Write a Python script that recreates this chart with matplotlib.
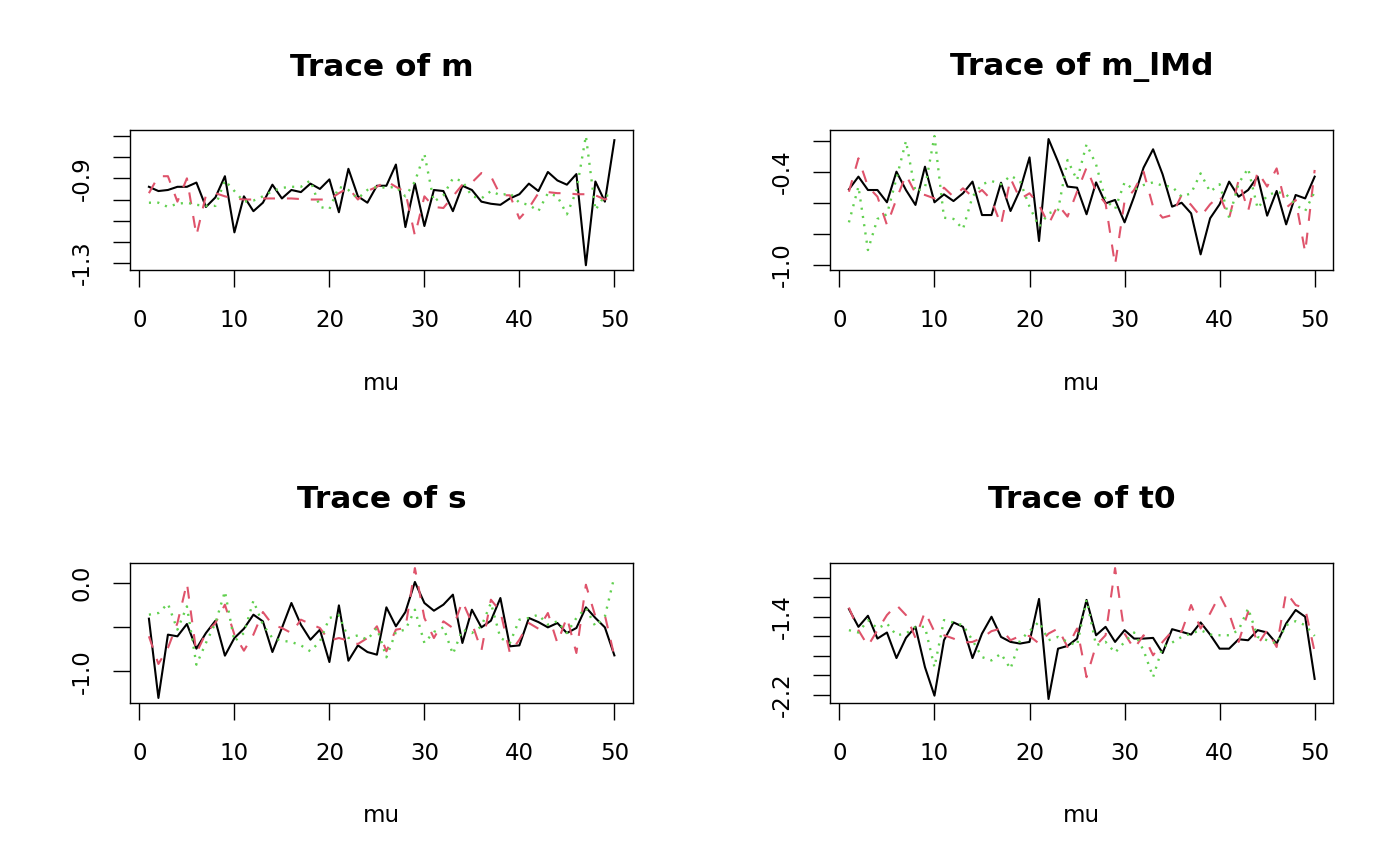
import numpy as np
import matplotlib
matplotlib.use("Agg")
import matplotlib.pyplot as plt

# ── Data ──────────────────────────────────────────────────────────────────────
iters = np.arange(1, 51)

m_black = [-0.94, -0.96, -0.955, -0.94, -0.94, -0.92, -1.035, -0.99, -0.89, -1.155,
           -0.985, -1.055, -1.015, -0.93, -0.995, -0.955, -0.965, -0.925, -0.95, -0.905,
           -1.06, -0.855, -0.985, -1.015, -0.935, -0.935, -0.835, -1.13, -0.925, -1.125,
           -0.955, -0.96, -1.055, -0.935, -0.955, -1.01, -1.02, -1.025, -0.995, -0.975,
           -0.925, -0.96, -0.87, -0.91, -0.93, -0.88, -1.31, -0.915, -1.01, -0.72]
m_red = [-0.97, -0.89, -0.89, -1.01, -0.9, -1.17, -0.98, -0.97, -0.985, -0.995,
         -1.0, -1.0, -0.995, -0.995, -0.995, -0.995, -0.998, -1.0, -1.0, -1.0,
         -0.97, -0.945, -1.0, -0.96, -0.94, -0.913, -0.94, -0.965, -1.17, -0.985,
         -1.035, -1.04, -0.985, -0.93, -0.92, -0.875, -0.89, -0.98, -0.98, -1.09,
         -1.04, -0.97, -0.965, -0.97, -0.97, -0.975, -0.975, -0.98, -1.0, -0.98]
m_green = [-1.015, -1.015, -1.035, -1.02, -1.015, -1.025, -1.03, -1.03, -0.91, -0.96,
           -1.01, -1.005, -0.985, -0.96, -0.945, -0.94, -0.94, -0.91, -1.035, -1.045,
           -0.94, -0.955, -0.995, -0.955, -0.94, -0.945, -0.94, -0.985, -0.915, -0.785,
           -1.01, -0.98, -0.9, -0.913, -0.985, -0.995, -0.96, -0.98, -0.97, -1.015,
           -1.025, -1.055, -0.97, -0.985, -1.07, -0.96, -0.70, -1.05, -0.98, -0.985]

lmd_black = [-0.514, -0.432, -0.518, -0.518, -0.597, -0.4, -0.518, -0.614, -0.368, -0.597,
             -0.546, -0.589, -0.539, -0.464, -0.679, -0.679, -0.471, -0.653, -0.518, -0.308,
             -0.846, -0.19, -0.336, -0.496, -0.503, -0.674, -0.469, -0.604, -0.582, -0.726,
             -0.561, -0.374, -0.256, -0.417, -0.625, -0.6, -0.668, -0.932, -0.7, -0.61,
             -0.464, -0.561, -0.518, -0.432, -0.683, -0.524, -0.739, -0.55, -0.572, -0.432]
lmd_red = [-0.529, -0.314, -0.496, -0.561, -0.743, -0.576, -0.421, -0.539, -0.55, -0.572,
           -0.503, -0.561, -0.507, -0.561, -0.518, -0.582, -0.743, -0.443, -0.576, -0.539,
           -0.614, -0.739, -0.614, -0.689, -0.529, -0.374, -0.529, -0.604, -1.0, -0.589,
           -0.518, -0.4, -0.625, -0.696, -0.679, -0.55, -0.614, -0.689, -0.61, -0.554,
           -0.7, -0.454, -0.653, -0.4, -0.496, -0.379, -0.632, -0.582, -0.919, -0.389]
lmd_green = [-0.726, -0.496, -0.904, -0.704, -0.674, -0.443, -0.203, -0.529, -0.503, -0.171,
             -0.696, -0.704, -0.769, -0.561, -0.481, -0.46, -0.481, -0.426, -0.46, -0.625,
             -0.754, -0.668, -0.647, -0.325, -0.454, -0.224, -0.353, -0.582, -0.64, -0.469,
             -0.518, -0.486, -0.469, -0.49, -0.496, -0.561, -0.539, -0.411, -0.529, -0.481,
             -0.696, -0.475, -0.379, -0.636, -0.554, -0.529, -0.546, -0.614, -0.653, -0.529]

s_black = [-0.406, -1.3, -0.586, -0.605, -0.466, -0.744, -0.568, -0.429, -0.823, -0.624,
           -0.519, -0.361, -0.436, -0.782, -0.511, -0.229, -0.474, -0.643, -0.53, -0.895,
           -0.256, -0.88, -0.707, -0.782, -0.812, -0.278, -0.492, -0.331, 0.008, -0.229,
           -0.316, -0.248, -0.135, -0.68, -0.305, -0.504, -0.429, -0.173, -0.718, -0.707,
           -0.398, -0.444, -0.504, -0.455, -0.568, -0.511, -0.278, -0.398, -0.504, -0.82]
s_red = [-0.605, -0.917, -0.737, -0.455, -0.004, -0.793, -0.568, -0.455, -0.248, -0.586,
         -0.767, -0.586, -0.331, -0.474, -0.511, -0.568, -0.417, -0.466, -0.511, -0.654,
         -0.624, -0.654, -0.692, -0.624, -0.492, -0.774, -0.53, -0.511, 0.165, -0.398,
         -0.624, -0.436, -0.511, -0.211, -0.455, -0.767, -0.192, -0.323, -0.793, -0.643,
         -0.455, -0.519, -0.342, -0.68, -0.391, -0.793, -0.023, -0.38, -0.368, -0.831]
s_green = [-0.361, -0.342, -0.237, -0.53, -0.267, -0.925, -0.68, -0.455, -0.098, -0.662,
           -0.568, -0.203, -0.474, -0.624, -0.654, -0.669, -0.707, -0.774, -0.662, -0.398,
           -0.368, -0.624, -0.594, -0.643, -0.511, -0.842, -0.556, -0.53, -0.305, -0.68,
           -0.556, -0.504, -0.805, -0.53, -0.568, -0.492, -0.229, -0.624, -0.68, -0.417,
           -0.398, -0.361, -0.474, -0.436, -0.568, -0.398, -0.286, -0.492, -0.38, 0.071]

t0_black = [-1.321, -1.503, -1.39, -1.623, -1.561, -1.822, -1.616, -1.503, -1.915, -2.206,
            -1.64, -1.458, -1.503, -1.822, -1.572, -1.4, -1.606, -1.657, -1.674, -1.657,
            -1.218, -2.24, -1.726, -1.698, -1.623, -1.228, -1.589, -1.503, -1.657, -1.537,
            -1.623, -1.623, -1.616, -1.77, -1.527, -1.554, -1.582, -1.458, -1.582, -1.726,
            -1.726, -1.63, -1.64, -1.537, -1.561, -1.674, -1.469, -1.331, -1.4, -2.035]
t0_red = [-1.307, -1.537, -1.698, -1.537, -1.383, -1.28, -1.383, -1.616, -1.349, -1.554,
          -1.589, -1.623, -1.664, -1.657, -1.616, -1.547, -1.52, -1.64, -1.596, -1.596,
          -1.674, -1.572, -1.52, -1.709, -1.52, -2.017, -1.692, -1.589, -0.903, -1.572,
          -1.726, -1.589, -1.794, -1.657, -1.547, -1.554, -1.28, -1.52, -1.366, -1.177,
          -1.366, -1.657, -1.349, -1.685, -1.537, -1.709, -1.15, -1.28, -1.314, -1.76]
t0_green = [-1.537, -1.561, -1.434, -1.52, -1.469, -1.589, -1.572, -1.503, -1.503, -1.915,
            -1.434, -1.458, -1.486, -1.64, -1.812, -1.846, -1.777, -1.932, -1.64, -1.547,
            -1.451, -1.64, -1.606, -1.657, -1.692, -1.228, -1.692, -1.657, -1.767, -1.657,
            -1.561, -1.743, -2.017, -1.709, -1.664, -1.606, -1.572, -1.537, -1.582, -1.589,
            -1.589, -1.537, -1.314, -1.606, -1.64, -1.674, -1.486, -1.445, -1.486, -1.596]

titles = ["Trace of m", "Trace of m_lMd", "Trace of s", "Trace of t0"]
series = [(m_black, m_red, m_green), (lmd_black, lmd_red, lmd_green),
          (s_black, s_red, s_green), (t0_black, t0_red, t0_green)]
ylims = [(-1.3325, -0.672), (-1.0325, -0.132), (-1.357, 0.222), (-2.281, -0.851)]
yticks = [np.arange(-1.3, -0.65, 0.1), np.arange(-1.0, -0.15, 0.2),
          [-1.0, -0.5, 0.0], np.arange(-2.2, -0.95, 0.2)]
ylabels_shown = [{-1.3: "-1.3", -0.9: "-0.9"}, {-1.0: "-1.0", -0.4: "-0.4"},
                 {-1.0: "-1.0", 0.0: "0.0"}, {-2.2: "-2.2", -1.4: "-1.4"}]
xticks = [0, 10, 20, 30, 40, 50]

# ── Style ─────────────────────────────────────────────────────────────────────
RED = "#DF536B"
GREEN = "#61D04F"
plt.rcParams["font.family"] = ["DejaVu Sans"]
plt.rcParams["lines.scale_dashes"] = False

W, H = 1400, 866
fig = plt.figure(figsize=(W / 100, H / 100), dpi=100)

# axes boxes in pixels: (left, top, right, bottom)
boxes = [(130.3, 130, 633, 270), (830.3, 130, 1333.3, 270),
         (130.3, 563, 633, 703), (830.3, 563, 1333.3, 703)]

for i, (l, t, r, b) in enumerate(boxes):
    ax = fig.add_axes([l / W, (H - b) / H, (r - l) / W, (b - t) / H])
    blk, red, grn = series[i]
    ax.plot(iters, blk, color="black", lw=1.5)
    ax.plot(iters, red, color=RED, lw=1.5, linestyle=(0, (8.6, 8.6)))
    ax.plot(iters, grn, color=GREEN, lw=1.7, linestyle=(0, (1.5, 4.5)))

    ax.set_xlim(-0.96, 51.96)
    ax.set_ylim(*ylims[i])
    ax.set_xticks(xticks)
    ax.set_xticklabels([str(v) for v in xticks])
    yt = list(yticks[i])
    ax.set_yticks(yt)
    ax.set_yticklabels([ylabels_shown[i].get(round(v, 1), "") for v in yt],
                       rotation=90, va="center")
    ax.tick_params(axis="both", direction="out", length=12.2, width=1.0,
                   labelsize=16.5)
    ax.tick_params(axis="x", pad=16)
    ax.tick_params(axis="y", pad=14)
    for sp in ax.spines.values():
        sp.set_linewidth(1.0)

    ax.set_title(titles[i], fontsize=22.5, fontweight="bold",
                 y=1 + 63 / (b - t), va="center", pad=0)
    ax.set_xlabel("mu", fontsize=16.5)
    ax.xaxis.label.set_va("center")
    ax.xaxis.set_label_coords(0.5, -113 / (b - t))

fig.savefig("out.png", dpi=100)
